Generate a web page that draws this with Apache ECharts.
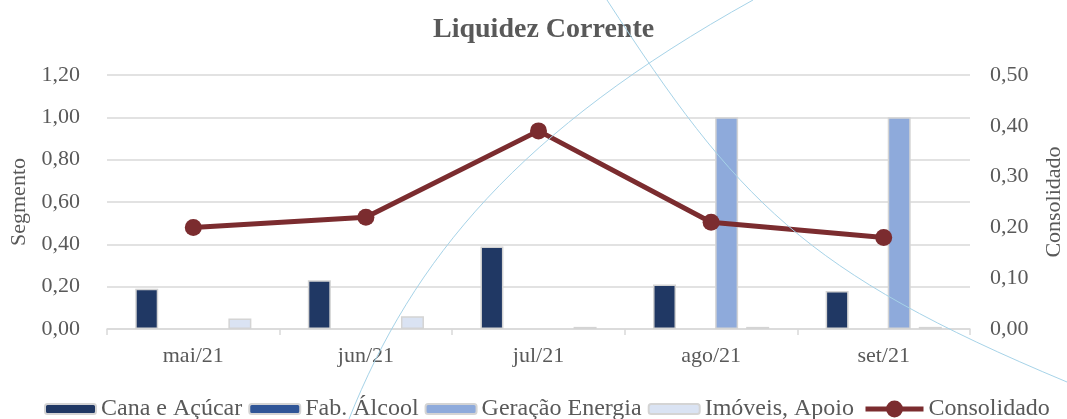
<!DOCTYPE html>
<html>
<head>
<meta charset="utf-8">
<script src="https://cdn.jsdelivr.net/npm/echarts@6/dist/echarts.min.js"></script>
<style>
  html, body { margin: 0; padding: 0; background: #fff; }
  #chart { width: 1067px; height: 419px; }
</style>
</head>
<body>
<div id="chart"></div>
<script>
// Monthly categories
const months = ['mai/21', 'jun/21', 'jul/21', 'ago/21', 'set/21'];

// Segment current-liquidity ratios (left axis)
const canaAcucar   = [0.19, 0.23, 0.39, 0.21, 0.18];
const fabAlcool    = [null, null, null, null, null];
const geracaoEnerg = [null, null, null, 1.00, 1.00];
const imoveisApoio = [0.05, 0.06, 0.01, 0.01, 0.01];

// Consolidated ratio (right axis)
const consolidado = [0.20, 0.22, 0.39, 0.21, 0.18];

// Axis ranges
const leftAxis  = { min: 0, max: 1.2, interval: 0.2 };
const rightAxis = { min: 0, max: 0.5, interval: 0.1 };

const FONT = '"Liberation Serif", "Times New Roman", serif';
const TEXT = '#595959';
const GRIDC = '#d9d9d9';
const RED = '#7b2c2f';
const ARC = '#a6d3e8';
const fmt = v => v.toFixed(2).replace('.', ',');

const barBase = {
  type: 'bar',
  barWidth: 23,
  barGap: '35%',
  itemStyle: { borderColor: '#d4d4d4', borderWidth: 1.5 }
};

const chart = echarts.init(document.getElementById('chart'));
chart.setOption({
  animation: false,
  backgroundColor: '#fff',
  title: {
    text: 'Liquidez Corrente',
    left: 428,
    top: 11,
    textStyle: { fontFamily: FONT, fontSize: 28, fontWeight: 'bold', color: TEXT }
  },
  grid: { left: 107, right: 97, top: 75, bottom: 90, outerBoundsMode: 'none' },
  legend: [
    {
      top: 397,
      left: 44,
      padding: 0,
      itemWidth: 51,
      itemHeight: 10,
      itemGap: 6,
      textStyle: { fontFamily: FONT, fontSize: 24, color: TEXT },
      data: ['Cana e Açúcar', 'Fab. Álcool', 'Geração Energia', 'Imóveis, Apoio']
    },
    {
      top: 397,
      left: 863,
      padding: 0,
      itemWidth: 58,
      itemHeight: 21,
      textStyle: { fontFamily: FONT, fontSize: 24, color: TEXT },
      data: [{ name: 'Consolidado', lineStyle: { width: 5 } }]
    }
  ],
  xAxis: {
    type: 'category',
    data: months,
    axisLine: { lineStyle: { color: GRIDC, width: 1.5 } },
    axisTick: { show: true, length: 6, lineStyle: { color: GRIDC, width: 1.5 } },
    axisLabel: { fontFamily: FONT, fontSize: 22, color: TEXT, margin: 16 }
  },
  yAxis: [
    {
      type: 'value',
      min: leftAxis.min, max: leftAxis.max, interval: leftAxis.interval,
      name: 'Segmento',
      nameLocation: 'middle',
      nameGap: 70,
      nameRotate: 90,
      nameTextStyle: { fontFamily: FONT, fontSize: 22, color: TEXT },
      axisLine: { show: false },
      axisTick: { show: false },
      axisLabel: { fontFamily: FONT, fontSize: 22, color: TEXT, margin: 27, formatter: fmt },
      splitLine: { lineStyle: { color: GRIDC, width: 1.5 } }
    },
    {
      type: 'value',
      position: 'right',
      min: rightAxis.min, max: rightAxis.max, interval: rightAxis.interval,
      name: 'Consolidado',
      nameLocation: 'middle',
      nameGap: 73,
      nameRotate: 90,
      nameTextStyle: { fontFamily: FONT, fontSize: 22, color: TEXT },
      axisLine: { show: false },
      axisTick: { show: false },
      axisLabel: { fontFamily: FONT, fontSize: 22, color: TEXT, margin: 20, formatter: fmt },
      splitLine: { show: false }
    }
  ],
  series: [
    Object.assign({}, barBase, { name: 'Cana e Açúcar', data: canaAcucar,
      itemStyle: Object.assign({}, barBase.itemStyle, { color: '#203864' }) }),
    Object.assign({}, barBase, { name: 'Fab. Álcool', data: fabAlcool,
      itemStyle: Object.assign({}, barBase.itemStyle, { color: '#2f5597' }) }),
    Object.assign({}, barBase, { name: 'Geração Energia', data: geracaoEnerg,
      itemStyle: Object.assign({}, barBase.itemStyle, { color: '#8eaadb' }) }),
    Object.assign({}, barBase, { name: 'Imóveis, Apoio', data: imoveisApoio,
      itemStyle: Object.assign({}, barBase.itemStyle, { color: '#dae3f3' }) }),
    {
      name: 'Consolidado',
      type: 'line',
      yAxisIndex: 1,
      data: consolidado,
      symbol: 'circle',
      symbolSize: 17,
      lineStyle: { color: RED, width: 5 },
      itemStyle: { color: RED },
      z: 5
    }
  ],
  // Two thin decorative arcs crossing the page
  graphic: [
    { type: 'bezierCurve', z: 100, silent: true,
      shape: { x1: 753, y1: 0, cpx1: 519, cpy1: 130, cpx2: 413, cpy2: 259, x2: 349, y2: 419 },
      style: { stroke: ARC, lineWidth: 1, fill: null } },
    { type: 'bezierCurve', z: 100, silent: true,
      shape: { x1: 607, y1: 0, cpx1: 737, cpy1: 200, cpx2: 803, cpy2: 272, x2: 1067, y2: 382 },
      style: { stroke: ARC, lineWidth: 1, fill: null } }
  ]
});
</script>
</body>
</html>
